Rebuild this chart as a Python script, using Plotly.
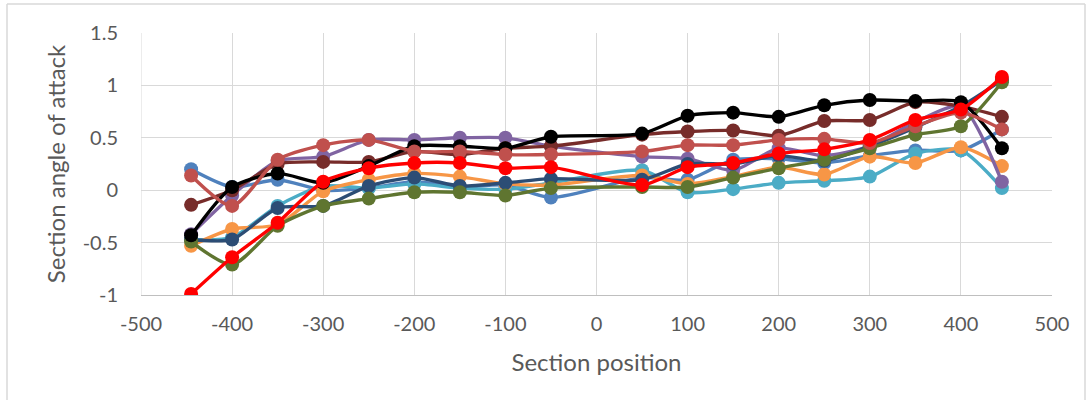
import plotly.graph_objects as go

# Section positions (no section at 0)
positions = [-445, -400, -350, -300, -250, -200, -150, -100, -50,
             50, 100, 150, 200, 250, 300, 350, 400, 445]

blue = [0.20, 0.03, 0.10, 0.00, 0.02, 0.08, 0.03, 0.05, -0.07,
        0.12, 0.10, 0.29, 0.30, 0.26, 0.33, 0.38, 0.38, 0.58]
teal = [-0.47, -0.45, -0.15, 0.04, 0.02, 0.06, 0.02, 0.01, 0.07,
        0.19, -0.02, 0.01, 0.07, 0.09, 0.13, 0.35, 0.38, 0.02]
orange = [-0.53, -0.37, -0.33, -0.01, 0.10, 0.16, 0.13, 0.06, 0.05,
          0.14, 0.06, 0.13, 0.22, 0.15, 0.32, 0.26, 0.41, 0.23]
purple = [-0.42, -0.05, 0.28, 0.32, 0.48, 0.48, 0.50, 0.50, 0.42,
          0.32, 0.30, 0.19, 0.40, 0.33, 0.42, 0.65, 0.80, 0.08]
maroon = [-0.14, 0.00, 0.25, 0.27, 0.27, 0.37, 0.34, 0.40, 0.42,
          0.53, 0.56, 0.57, 0.52, 0.66, 0.67, 0.84, 0.80, 0.70]
dark_blue = [-0.47, -0.47, -0.17, -0.15, 0.04, 0.12, 0.04, 0.07, 0.11,
             0.10, 0.25, 0.25, 0.33, 0.28, 0.42, 0.60, 0.80, 1.05]
olive = [-0.49, -0.71, -0.34, -0.15, -0.08, -0.02, -0.02, -0.05, 0.02,
         0.03, 0.03, 0.12, 0.21, 0.29, 0.40, 0.53, 0.61, 1.03]
black = [-0.43, 0.03, 0.16, 0.07, 0.23, 0.42, 0.42, 0.40, 0.51,
         0.54, 0.71, 0.74, 0.70, 0.81, 0.86, 0.85, 0.84, 0.40]
rose = [0.14, -0.15, 0.29, 0.43, 0.48, 0.37, 0.37, 0.34, 0.34,
        0.37, 0.43, 0.43, 0.48, 0.49, 0.45, 0.61, 0.74, 0.58]
red = [-0.99, -0.64, -0.31, 0.08, 0.21, 0.26, 0.26, 0.21, 0.22,
       0.05, 0.22, 0.26, 0.35, 0.39, 0.48, 0.67, 0.77, 1.08]

x_ticks = [-500, -400, -300, -200, -100, 0, 100, 200, 300, 400, 500]
x_tick_labels = ["-500", "-400", "-300", "-200", "-100", "0",
                 "100", "200", "300", "400", "500"]
y_ticks = [-1, -0.5, 0, 0.5, 1, 1.5]
y_tick_labels = ["-1", "-0.5", "0", "0.5", "1", "1.5"]

series = [
    (blue, "#4F81BD"),
    (teal, "#4BACC6"),
    (orange, "#F79646"),
    (purple, "#8064A2"),
    (maroon, "#772C2A"),
    (dark_blue, "#2C4D75"),
    (olive, "#5F7530"),
    (black, "#000000"),
    (rose, "#C0504D"),
    (red, "#FF0000"),
]

fig = go.Figure()
for values, color in series:
    fig.add_trace(go.Scatter(
        x=positions, y=values, mode="lines+markers",
        line=dict(color=color, width=3.4, shape="spline", smoothing=0.7),
        marker=dict(color=color, size=14),
        showlegend=False,
    ))

font_family = "Lato, 'Open Sans', sans-serif"
grid = "#D9D9D9"

fig.update_layout(
    width=1088, height=412,
    margin=dict(l=141, r=36, t=33, b=117),
    paper_bgcolor="white", plot_bgcolor="white",
    font=dict(family=font_family, color="#595959", size=20),
    xaxis=dict(
        range=[-500, 500], tickvals=x_ticks, ticktext=x_tick_labels,
        showgrid=True, gridcolor=grid, gridwidth=1,
        showline=True, linecolor="#BFBFBF", linewidth=1, mirror=False,
        zeroline=False, ticks="", ticklabelstandoff=11,
        title=dict(text="Section position", font=dict(size=24), standoff=20),
    ),
    yaxis=dict(
        range=[-1, 1.5], tickvals=y_ticks, ticktext=y_tick_labels,
        showgrid=True, gridcolor=grid, gridwidth=1,
        showline=False, zeroline=False, ticks="", ticklabelstandoff=22,
        title=dict(text="Section angle of attack", font=dict(size=24), standoff=10),
    ),
    shapes=[
        # outer chart frame
        dict(type="line", xref="paper", yref="paper",
             x0=(7 - 141) / 911, x1=(7 - 141) / 911,
             y0=(295 - 4) / 262, y1=(295 - 400) / 262,
             line=dict(color=grid, width=1.5)),
        dict(type="line", xref="paper", yref="paper",
             x0=(7 - 141) / 911, x1=(1085 - 141) / 911,
             y0=(295 - 4) / 262, y1=(295 - 4) / 262,
             line=dict(color=grid, width=1.5)),
        dict(type="line", xref="paper", yref="paper",
             x0=(1085 - 141) / 911, x1=(1085 - 141) / 911,
             y0=(295 - 4) / 262, y1=(295 - 400) / 262,
             line=dict(color=grid, width=1.5)),
        # plot-area left edge
        dict(type="line", xref="x", yref="paper",
             x0=-500, x1=-500, y0=0, y1=1,
             line=dict(color=grid, width=1), layer="below"),
    ],
)

fig.write_html("out.html")
